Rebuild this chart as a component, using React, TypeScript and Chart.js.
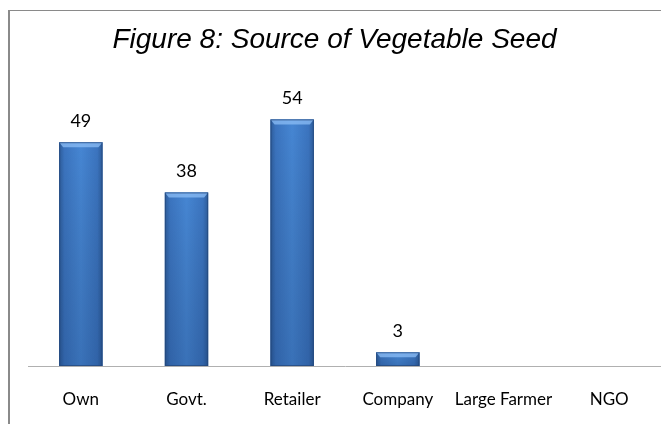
import React, { useEffect, useRef } from "react";
import { Chart, registerables } from "chart.js";

Chart.register(...registerables);

const categories = ["Own", "Govt.", "Retailer", "Company", "Large Farmer", "NGO"];
const values = [49, 38, 54, 3, 0, 0];
const titleText = "Figure 8: Source of Vegetable Seed";
const yMax = 60;

const BAR_PCT = 0.41;

const barLook = {
  id: "barLook",
  afterDatasetsDraw(chart: any) {
    const ctx = chart.ctx;
    const meta = chart.getDatasetMeta(0);
    ctx.save();
    meta.data.forEach((bar: any, i: number) => {
      const v = values[i];
      if (!v) return;
      const { x, y, base, width } = bar.getProps(["x", "y", "base", "width"], true);
      const l = x - width / 2;
      const r = x + width / 2;
      const hg = ctx.createLinearGradient(l, 0, r, 0);
      hg.addColorStop(0, "#2d5c9a");
      hg.addColorStop(0.12, "#3b74bf");
      hg.addColorStop(0.5, "#4686d3");
      hg.addColorStop(0.88, "#3b74bf");
      hg.addColorStop(1, "#2d5c9a");
      ctx.fillStyle = hg;
      ctx.fillRect(l, y, width, base - y);
      const vg = ctx.createLinearGradient(0, y, 0, base);
      vg.addColorStop(0, "rgba(0,0,0,0)");
      vg.addColorStop(1, "rgba(0,20,60,0.18)");
      ctx.fillStyle = vg;
      ctx.fillRect(l, y, width, base - y);
      const bh = Math.min(5, (base - y) / 2);
      ctx.beginPath();
      ctx.moveTo(l, y);
      ctx.lineTo(r, y);
      ctx.lineTo(r - 4, y + bh);
      ctx.lineTo(l + 4, y + bh);
      ctx.closePath();
      ctx.fillStyle = "rgba(140,190,245,0.75)";
      ctx.fill();
      ctx.strokeStyle = "rgba(35,70,120,0.7)";
      ctx.lineWidth = 1;
      ctx.strokeRect(l + 0.5, y + 0.5, width - 1, base - y - 1);
    });
    ctx.fillStyle = "#000";
    ctx.font = "18px Lato, 'Open Sans', sans-serif";
    ctx.textAlign = "center";
    ctx.textBaseline = "middle";
    meta.data.forEach((bar: any, i: number) => {
      const v = values[i];
      if (!v) return;
      const { x, y } = bar.getProps(["x", "y"], true);
      ctx.fillText(String(v), x, y - 21);
    });
    ctx.font = "italic 28px 'Liberation Sans', Arial, sans-serif";
    ctx.textBaseline = "alphabetic";
    ctx.fillText(titleText, 324.5, 37);
    ctx.restore();
  },
};

export default function App() {
  const ref = useRef<HTMLCanvasElement | null>(null);
  useEffect(() => {
    if (!ref.current) return;
    const chart = new Chart(ref.current, {
      type: "bar",
      data: {
        labels: categories,
        datasets: [
          {
            data: values,
            barPercentage: BAR_PCT,
            categoryPercentage: 1,
            backgroundColor: "#3f7ccb",
            borderWidth: 0,
          },
        ],
      },
      options: {
        animation: false,
        responsive: false,
        layout: { padding: { left: 18, right: 7, top: 81, bottom: 0 } },
        plugins: {
          legend: { display: false },
          tooltip: { enabled: false },
          title: { display: false },
        },
        scales: {
          y: { display: false, min: 0, max: yMax },
          x: {
            grid: { display: false, drawTicks: false },
            border: { color: "#b0b0b0", width: 1 },
            ticks: {
              color: "#000",
              padding: 23,
              font: { family: "Lato, 'Open Sans', sans-serif", size: 17 },
            },
            afterFit: (s: any) => {
              s.height = 58;
            },
          },
        },
      },
      plugins: [barLook],
    });
    return () => chart.destroy();
  }, []);
  return (
    <div
      style={{
        marginTop: 2,
        borderTop: "1px solid #8a8a8a",
        borderLeft: "2px solid #8a8a8a",
        width: 659,
        height: 413,
        background: "#fff",
      }}
    >
      <canvas ref={ref} width={659} height={413} style={{ display: "block" }} />
    </div>
  );
}
